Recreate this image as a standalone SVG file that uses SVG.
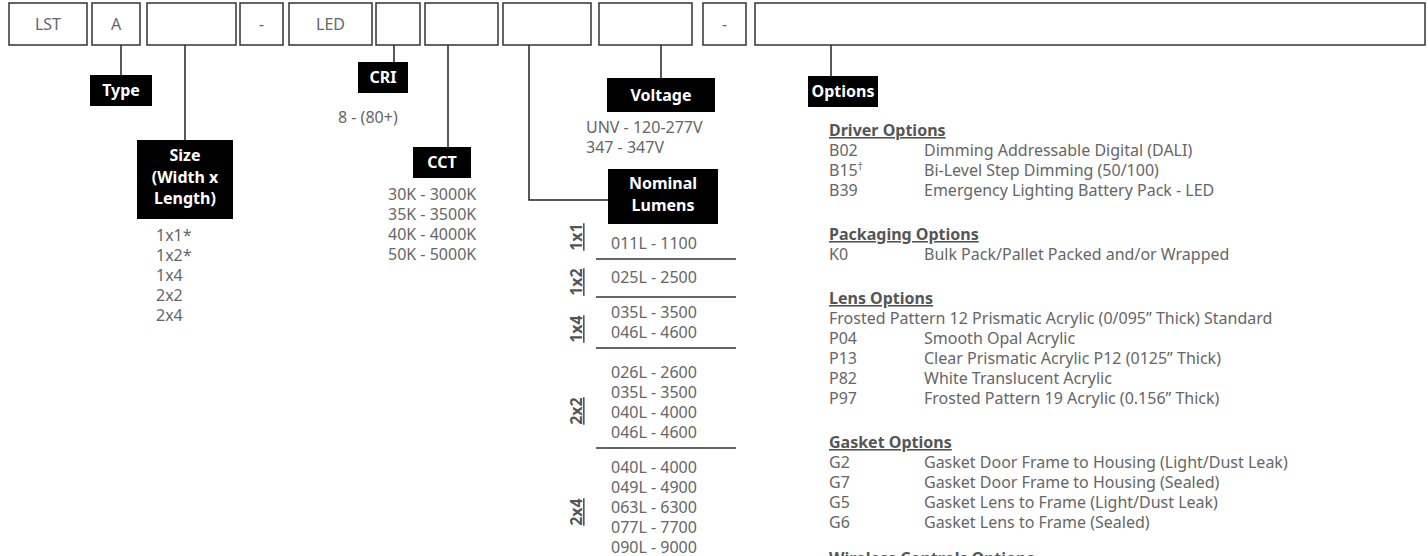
<svg xmlns="http://www.w3.org/2000/svg" width="1428" height="556" viewBox="0 0 1428 556">
<style>
.box{fill:#fff;stroke:#333;stroke-width:1.5}
.bt{font-family:"Noto Sans","Liberation Sans",sans-serif;font-size:16px;fill:#666;text-anchor:middle}
.lab{fill:#000}
.lt{font-family:"Noto Sans","Liberation Sans",sans-serif;font-size:16px;font-weight:bold;fill:#fff;text-anchor:middle}
.t{font-family:"Noto Sans","Liberation Sans",sans-serif;font-size:16px;fill:#666}
.h{font-family:"Noto Sans","Liberation Sans",sans-serif;font-size:16px;font-weight:bold;fill:#555;text-decoration:underline}
.v{font-family:"Noto Sans","Liberation Sans",sans-serif;font-size:16px;font-weight:bold;fill:#555;text-decoration:underline;text-anchor:middle}
.ln{stroke:#222;stroke-width:1.5;fill:none}
.sep{stroke:#333;stroke-width:1.5}
</style>
<g id="connectors">
<line class="ln" x1="121" y1="45" x2="121" y2="75"/>
<line class="ln" x1="185" y1="45" x2="185" y2="140"/>
<line class="ln" x1="394" y1="45" x2="394" y2="62"/>
<line class="ln" x1="448" y1="45" x2="448" y2="147"/>
<polyline class="ln" points="529,45 529,200 608,200"/>
<line class="ln" x1="661" y1="45" x2="661" y2="78"/>
<line class="ln" x1="831" y1="45" x2="831" y2="76"/>
</g>
<g id="code-boxes">
<g id="box-lst"><rect class="box" x="9" y="3" width="78" height="42"/><text class="bt" x="48" y="30">LST</text></g>
<g id="box-a"><rect class="box" x="92" y="3" width="48" height="42"/><text class="bt" x="116" y="30">A</text></g>
<g id="box-size"><rect class="box" x="147" y="3" width="89" height="42"/></g>
<g id="box-dash1"><rect class="box" x="240" y="3" width="43" height="42"/><text class="bt" x="261.5" y="30">-</text></g>
<g id="box-led"><rect class="box" x="289" y="3" width="83" height="42"/><text class="bt" x="330.5" y="30">LED</text></g>
<g id="box-cri"><rect class="box" x="376" y="3" width="44" height="42"/></g>
<g id="box-cct"><rect class="box" x="425" y="3" width="73" height="42"/></g>
<g id="box-lumens"><rect class="box" x="503" y="3" width="88" height="42"/></g>
<g id="box-voltage"><rect class="box" x="599" y="3" width="93" height="42"/></g>
<g id="box-dash2"><rect class="box" x="703" y="3" width="43" height="42"/><text class="bt" x="724.5" y="30">-</text></g>
<g id="box-options"><rect class="box" x="755" y="3" width="670" height="42"/></g>
</g>
<g id="type">
<rect class="lab" x="90" y="75" width="62" height="31"/><text class="lt" x="121" y="96">Type</text>
</g>
<g id="size">
<rect class="lab" x="137" y="140" width="96" height="79"/>
<text class="lt" x="185" y="161">Size</text>
<text class="lt" x="185" y="183">(Width x</text>
<text class="lt" x="185" y="204">Length)</text>
<text class="t" x="156" y="241">1x1*</text>
<text class="t" x="156" y="261">1x2*</text>
<text class="t" x="156" y="281">1x4</text>
<text class="t" x="156" y="301">2x2</text>
<text class="t" x="156" y="321">2x4</text>
</g>
<g id="cri">
<rect class="lab" x="358" y="62" width="50" height="31"/><text class="lt" x="383" y="83">CRI</text>
<text class="t" x="338" y="123">8 - (80+)</text>
</g>
<g id="cct">
<rect class="lab" x="413" y="147" width="58" height="31"/><text class="lt" x="442" y="168">CCT</text>
<text class="t" x="388" y="200">30K - 3000K</text>
<text class="t" x="388" y="220">35K - 3500K</text>
<text class="t" x="388" y="240">40K - 4000K</text>
<text class="t" x="388" y="260">50K - 5000K</text>
</g>
<g id="voltage">
<rect class="lab" x="607" y="78" width="108" height="34"/><text class="lt" x="661" y="101">Voltage</text>
<text class="t" x="586" y="133">UNV - 120-277V</text>
<text class="t" x="586" y="153">347 - 347V</text>
</g>
<g id="lumens">
<rect class="lab" x="608" y="169" width="110" height="55"/>
<text class="lt" x="663" y="189">Nominal</text>
<text class="lt" x="663" y="211">Lumens</text>
<text class="v" transform="translate(582,237) rotate(-90)">1x1</text>
<text class="v" transform="translate(582,282) rotate(-90)">1x2</text>
<text class="v" transform="translate(582,329) rotate(-90)">1x4</text>
<text class="v" transform="translate(582,411) rotate(-90)">2x2</text>
<text class="v" transform="translate(582,512) rotate(-90)">2x4</text>
<line class="sep" x1="596" y1="259" x2="736" y2="259"/>
<line class="sep" x1="596" y1="297" x2="736" y2="297"/>
<line class="sep" x1="596" y1="348" x2="736" y2="348"/>
<line class="sep" x1="596" y1="448" x2="736" y2="448"/>
<text class="t" x="611" y="249">011L - 1100</text>
<text class="t" x="611" y="283">025L - 2500</text>
<text class="t" x="611" y="318">035L - 3500</text>
<text class="t" x="611" y="338">046L - 4600</text>
<text class="t" x="611" y="378">026L - 2600</text>
<text class="t" x="611" y="398">035L - 3500</text>
<text class="t" x="611" y="418">040L - 4000</text>
<text class="t" x="611" y="438">046L - 4600</text>
<text class="t" x="611" y="473">040L - 4000</text>
<text class="t" x="611" y="493">049L - 4900</text>
<text class="t" x="611" y="513">063L - 6300</text>
<text class="t" x="611" y="533">077L - 7700</text>
<text class="t" x="611" y="553">090L - 9000</text>
</g>
<g id="options">
<rect class="lab" x="808" y="76" width="70" height="31"/><text class="lt" x="843" y="97">Options</text>
<text class="h" x="829" y="136">Driver Options</text>
<text class="t" x="829" y="156">B02</text><text class="t" x="924" y="156">Dimming Addressable Digital (DALI)</text>
<text class="t" x="829" y="176">B15<tspan font-size="10" dy="-6">†</tspan></text><text class="t" x="924" y="176">Bi-Level Step Dimming (50/100)</text>
<text class="t" x="829" y="196">B39</text><text class="t" x="924" y="196">Emergency Lighting Battery Pack - LED</text>
<text class="h" x="829" y="240">Packaging Options</text>
<text class="t" x="829" y="260">K0</text><text class="t" x="924" y="260">Bulk Pack/Pallet Packed and/or Wrapped</text>
<text class="h" x="829" y="304">Lens Options</text>
<text class="t" x="829" y="324">Frosted Pattern 12 Prismatic Acrylic (0/095” Thick) Standard</text>
<text class="t" x="829" y="344">P04</text><text class="t" x="924" y="344">Smooth Opal Acrylic</text>
<text class="t" x="829" y="364">P13</text><text class="t" x="924" y="364">Clear Prismatic Acrylic P12 (0125” Thick)</text>
<text class="t" x="829" y="384">P82</text><text class="t" x="924" y="384">White Translucent Acrylic</text>
<text class="t" x="829" y="404">P97</text><text class="t" x="924" y="404">Frosted Pattern 19 Acrylic (0.156” Thick)</text>
<text class="h" x="829" y="448">Gasket Options</text>
<text class="t" x="829" y="468">G2</text><text class="t" x="924" y="468">Gasket Door Frame to Housing (Light/Dust Leak)</text>
<text class="t" x="829" y="488">G7</text><text class="t" x="924" y="488">Gasket Door Frame to Housing (Sealed)</text>
<text class="t" x="829" y="508">G5</text><text class="t" x="924" y="508">Gasket Lens to Frame (Light/Dust Leak)</text>
<text class="t" x="829" y="528">G6</text><text class="t" x="924" y="528">Gasket Lens to Frame (Sealed)</text>
<text class="h" x="829" y="564">Wireless Controls Options</text>
</g>
</svg>
